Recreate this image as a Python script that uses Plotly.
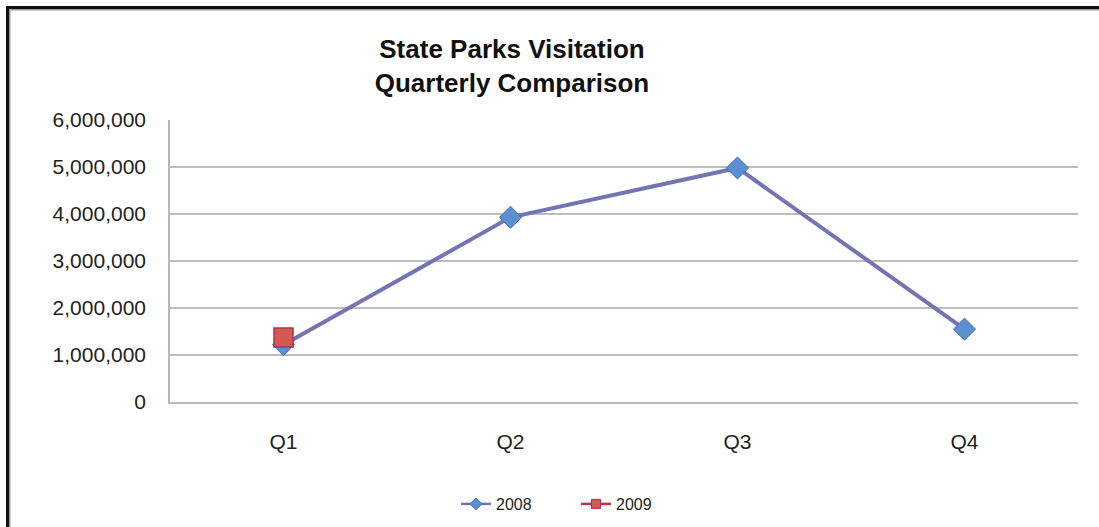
import plotly.graph_objects as go

quarters = ["Q1", "Q2", "Q3", "Q4"]
visits_2008 = [1220000, 3930000, 4980000, 1550000]
visits_2009 = [1370000, None, None, None]
y_ticks = [0, 1000000, 2000000, 3000000, 4000000, 5000000, 6000000]
y_tick_labels = ["0", "1,000,000", "2,000,000", "3,000,000", "4,000,000", "5,000,000", "6,000,000"]

W, H = 1099, 527
L, R, T, B = 170, 21, 120, 125
pw, ph = W - L - R, H - T - B

C2008_LINE, C2008_MK, C2008_EDGE = "#7474b2", "#5b8fd2", "#4a70b0"
C2009_LINE, C2009_MK, C2009_EDGE = "#b63462", "#d25a50", "#b03050"

fig = go.Figure()
fig.add_trace(go.Scatter(
    x=quarters, y=visits_2008, name="2008", mode="lines+markers", showlegend=False,
    line=dict(color=C2008_LINE, width=4),
    marker=dict(symbol="diamond", size=17, color=C2008_MK, line=dict(color=C2008_EDGE, width=1)),
))
fig.add_trace(go.Scatter(
    x=quarters, y=visits_2009, name="2009", mode="lines+markers", showlegend=False,
    line=dict(color=C2009_LINE, width=3),
    marker=dict(symbol="square", size=19, color=C2009_MK, line=dict(color=C2009_EDGE, width=1.5)),
))
# legend-only entries (small symbols as in the reference legend)
fig.add_trace(go.Scatter(
    x=[None], y=[None], name="2008", mode="lines+markers",
    line=dict(color=C2008_LINE, width=2.5),
    marker=dict(symbol="diamond", size=9, color=C2008_MK, line=dict(color=C2008_EDGE, width=1)),
))
fig.add_trace(go.Scatter(
    x=[None], y=[None], name="2009", mode="lines+markers",
    line=dict(color=C2009_LINE, width=2.5),
    marker=dict(symbol="square", size=9, color=C2009_MK, line=dict(color=C2009_EDGE, width=1)),
))

def px_x(p):
    return (p - L) / pw

def px_y(p):
    return (H - B - p) / ph

shapes = [
    dict(type="line", xref="paper", yref="paper", x0=px_x(8), x1=px_x(1099), y0=px_y(9.5), y1=px_y(9.5),
         line=dict(color="#9a9a9a", width=2)),
    dict(type="line", xref="paper", yref="paper", x0=px_x(9.5), x1=px_x(9.5), y0=px_y(8), y1=px_y(527),
         line=dict(color="#9a9a9a", width=2)),
    dict(type="line", xref="paper", yref="paper", x0=px_x(6.5), x1=px_x(1099), y0=px_y(7.5), y1=px_y(7.5),
         line=dict(color="#111111", width=3)),
    dict(type="line", xref="paper", yref="paper", x0=px_x(7.5), x1=px_x(7.5), y0=px_y(6.5), y1=px_y(527),
         line=dict(color="#111111", width=3)),
]

fig.update_layout(
    width=W, height=H,
    margin=dict(l=L, r=R, t=T, b=B),
    paper_bgcolor="white", plot_bgcolor="white",
    font=dict(family="Liberation Sans, Arial, sans-serif", color="#222222"),
    title=dict(
        text="<b>State Parks Visitation<br>Quarterly Comparison</b>",
        x=512 / W, xanchor="center", xref="container",
        y=1 - 58 / H, yanchor="top", yref="container",
        font=dict(size=26, color="#111111"),
    ),
    xaxis=dict(
        range=[-0.5, 3.5], showgrid=False, showline=True, linecolor="#b8b8b8", linewidth=1.5,
        tickfont=dict(size=21), ticks="", ticklabelstandoff=20, zeroline=False, fixedrange=True,
    ),
    yaxis=dict(
        range=[0, 6000000], tickvals=y_ticks, ticktext=y_tick_labels,
        showgrid=True, gridcolor="#bdbdbd", gridwidth=1.5,
        showline=True, linecolor="#b8b8b8", linewidth=1.5,
        tickfont=dict(size=21), ticks="", ticklabelstandoff=18, zeroline=False,
    ),
    legend=dict(
        orientation="h", xref="container", yref="container",
        x=456 / W, xanchor="left", y=(H - 504) / H, yanchor="middle",
        font=dict(size=16, color="#222222"), bgcolor="rgba(0,0,0,0)",
        entrywidth=75, entrywidthmode="pixels",
    ),
    shapes=shapes,
)

fig.write_html("out.html", config={"displayModeBar": False},
               post_script="document.body.style.margin='0';document.body.style.padding='0';")
